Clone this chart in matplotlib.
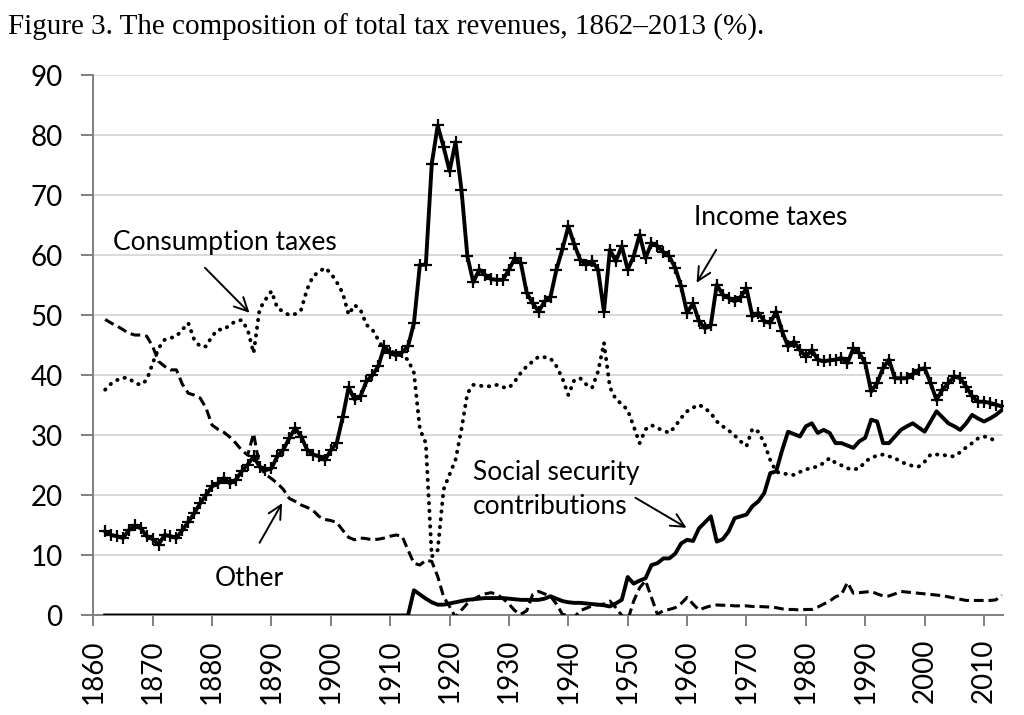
import numpy as np
import matplotlib.pyplot as plt

# years covered by the series
years = np.arange(1862, 2014)

# shares of total tax revenue (%), one value per year 1862-2013
income_taxes = [
    14.0, 13.4, 13.2, 12.9, 14.2, 15.0, 14.5, 13.2,
    12.7, 11.8, 13.4, 13.2, 12.9, 14.2, 15.6, 17.0, 18.7, 20.1,
    21.5, 22.0, 22.9, 22.0, 22.6, 24.0, 25.1, 26.5, 24.8, 24.2,
    24.5, 26.5, 27.6, 29.5, 31.2, 29.8, 27.6, 26.8, 26.5, 25.9,
    27.5, 28.7, 33.0, 38.0, 36.0, 36.5, 39.0, 40.0, 41.5, 44.8,
    43.7, 43.3, 43.8, 44.8, 48.7, 58.4, 58.4, 75.2, 81.6, 78.0,
    74.0, 78.8, 70.9, 59.8, 55.5, 57.6, 56.7, 56.0, 55.9, 55.9,
    57.6, 59.5, 58.7, 53.7, 52.0, 50.6, 52.3, 53.1, 57.6, 61.0,
    64.8, 61.8, 59.2, 58.4, 59.0, 57.6, 50.6, 60.9, 59.0, 61.5,
    57.6, 59.8, 63.4, 59.5, 62.0, 61.5, 60.5, 59.8, 57.9, 54.8,
    50.4, 52.0, 49.0, 47.8, 48.4, 55.1, 53.4, 52.9, 52.3, 53.0,
    54.5, 49.8, 50.4, 49.0, 48.7, 50.6, 47.3, 44.8, 45.6, 44.2,
    43.1, 44.2, 42.6, 42.3, 42.5, 42.6, 42.9, 42.0, 44.5, 43.7,
    42.0, 37.3, 38.7, 41.2, 42.6, 39.5, 39.5, 39.5, 40.2, 40.9,
    41.2, 38.7, 35.9, 37.6, 38.7, 39.8, 39.5, 38.1, 36.5, 35.6,
    35.6, 35.4, 35.1, 34.8,
]

consumption_taxes = [
    37.6, 38.6, 39.2, 39.6, 39.5, 38.7, 38.4, 39.2,
    42.0, 44.5, 45.9, 46.2, 46.5, 47.6, 48.7, 45.9, 44.8, 44.8,
    46.5, 47.6, 47.6, 48.4, 49.0, 49.2, 47.6, 43.7, 51.0, 52.6,
    54.0, 51.2, 50.6, 50.0, 50.2, 50.9, 54.3, 56.5, 57.2, 57.9,
    57.0, 55.5, 53.7, 50.1, 51.7, 50.9, 48.4, 47.6, 45.9, 44.2,
    44.0, 43.7, 43.2, 42.6, 40.4, 31.0, 28.7, 9.8, 10.9, 21.0,
    23.5, 25.9, 31.0, 37.0, 38.4, 38.3, 38.1, 38.2, 38.4, 38.0,
    37.9, 39.0, 40.4, 41.5, 42.3, 43.1, 43.0, 42.8, 41.5, 39.5,
    36.7, 39.2, 39.5, 38.5, 37.9, 40.6, 45.4, 38.0, 36.0, 35.2,
    34.2, 31.5, 28.7, 31.0, 31.7, 31.2, 30.8, 30.4, 31.5, 32.9,
    34.0, 34.6, 35.1, 34.5, 33.7, 32.3, 31.5, 30.8, 30.0, 29.0,
    28.2, 31.1, 30.6, 28.7, 25.9, 23.9, 23.7, 23.5, 23.4, 23.9,
    24.3, 24.6, 24.8, 25.4, 26.2, 25.4, 25.0, 24.5, 24.3, 24.5,
    25.6, 26.3, 26.6, 26.8, 26.5, 26.2, 25.6, 25.2, 24.9, 24.8,
    25.6, 26.8, 26.8, 26.8, 26.5, 26.5, 27.2, 28.0, 28.7, 29.5,
    29.8, 29.6, 28.9, np.nan,
]

social_security = [
    0.0, 0.0, 0.0, 0.0, 0.0, 0.0, 0.0, 0.0,
    0.0, 0.0, 0.0, 0.0, 0.0, 0.0, 0.0, 0.0, 0.0, 0.0,
    0.0, 0.0, 0.0, 0.0, 0.0, 0.0, 0.0, 0.0, 0.0, 0.0,
    0.0, 0.0, 0.0, 0.0, 0.0, 0.0, 0.0, 0.0, 0.0, 0.0,
    0.0, 0.0, 0.0, 0.0, 0.0, 0.0, 0.0, 0.0, 0.0, 0.0,
    0.0, 0.0, 0.0, 0.0, 4.2, 3.5, 2.8, 2.2, 1.8, 1.8,
    2.0, 2.2, 2.4, 2.6, 2.7, 2.8, 2.9, 2.9, 2.9, 2.9,
    2.8, 2.7, 2.6, 2.6, 2.6, 2.6, 2.8, 3.2, 2.8, 2.4,
    2.2, 2.1, 2.1, 2.0, 1.9, 1.8, 1.7, 1.5, 2.0, 2.6,
    6.4, 5.3, 5.8, 6.2, 8.4, 8.7, 9.5, 9.5, 10.3, 12.0,
    12.6, 12.4, 14.5, 15.5, 16.5, 12.3, 12.7, 14.0, 16.2, 16.5,
    16.8, 18.2, 19.0, 20.4, 23.7, 24.0, 27.5, 30.6, 30.2, 29.8,
    31.5, 32.0, 30.4, 30.9, 30.4, 28.7, 28.7, 28.3, 27.9, 29.0,
    29.6, 32.6, 32.3, 28.7, 28.7, 29.8, 30.9, 31.5, 32.0, 31.3,
    30.6, 32.3, 34.0, 33.0, 32.0, 31.5, 30.9, 32.0, 33.4, 32.8,
    32.3, 32.8, 33.4, 34.2,
]

other = [
    49.3, 48.7, 48.2, 47.6, 47.0, 46.7, 46.7, 46.5,
    44.8, 42.3, 41.5, 40.9, 40.9, 38.5, 37.0, 36.7, 36.2, 34.5,
    31.7, 31.0, 30.5, 29.7, 28.7, 27.5, 26.7, 30.3, 24.8, 23.5,
    22.8, 22.0, 21.0, 19.5, 19.0, 18.4, 18.0, 17.5, 16.5, 16.0,
    15.8, 15.5, 14.2, 13.0, 12.6, 12.9, 12.8, 12.6, 12.7, 12.9,
    13.2, 13.4, 13.2, 10.9, 8.7, 8.4, 9.2, 9.0, 6.5, 3.1,
    1.5, -0.3, 0.9, 2.0, 2.7, 3.2, 3.6, 3.8, 3.5, 2.8,
    1.9, 0.8, 0.2, 0.8, 3.5, 4.0, 3.6, 3.2, 1.9, 0.2,
    0.0, -0.3, 0.8, 1.2, 1.6, 1.8, 1.9, 2.4, 1.3, 0.0,
    -0.8, 2.4, 4.6, 5.8, 3.0, 0.2, 0.8, 1.0, 1.3, 2.0,
    3.0, 1.9, 0.9, 1.3, 1.6, 1.75, 1.7, 1.7, 1.6, 1.6,
    1.6, 1.5, 1.5, 1.45, 1.4, 1.3, 1.1, 1.0, 1.0, 0.9,
    1.0, 1.0, 1.4, 1.9, 2.4, 3.1, 3.5, 5.5, 3.7, 3.8,
    3.9, 4.0, 3.6, 3.25, 3.25, 3.6, 4.0, 3.9, 3.8, 3.7,
    3.6, 3.5, 3.4, 3.3, 3.1, 2.9, 2.7, 2.5, 2.5, 2.5,
    2.5, 2.5, 2.6, 3.4,
]

yticks = [0, 10, 20, 30, 40, 50, 60, 70, 80, 90]
xticks = list(range(1860, 2020, 10))

label_font = 'Lato'

fig = plt.figure(figsize=(10.24, 7.15), dpi=100)
ax = fig.add_axes([0.0911, 0.1392, 0.8884, 0.7559])

ax.plot(years, other, color='black', lw=2.2, ls=(0, (3.2, 1.6)), zorder=3)
ax.plot(years, consumption_taxes, color='black', lw=2.8, ls=(0, (0.1, 1.9)),
        dash_capstyle='round', zorder=3)
ax.plot(years, social_security, color='black', lw=2.8, zorder=4)
ax.plot(years, income_taxes, color='black', lw=2.8, marker='+', ms=9, mew=1.6,
        zorder=5)

ax.set_xlim(1860, 2013.2)
ax.set_ylim(0, 90)
ax.set_yticks(yticks)
ax.set_xticks(xticks)
ax.set_xticklabels([str(x) for x in xticks], rotation=90, fontsize=20,
                   family=label_font)
ax.set_yticklabels([str(y) for y in yticks], fontsize=20, family=label_font)

ax.grid(axis='y', color='#d9d9d9', lw=1.4)
ax.set_axisbelow(True)
for side in ['top', 'right']:
    ax.spines[side].set_visible(False)
for side in ['left', 'bottom']:
    ax.spines[side].set_color('#808080')
    ax.spines[side].set_linewidth(1.4)
ax.tick_params(axis='y', length=9, width=1.4, color='#808080', pad=13)
ax.tick_params(axis='x', length=8, width=1.4, color='#808080', pad=9)

# series labels
ann = dict(fontsize=19, family=label_font, color='black')
ax.text(1863.3, 62.1, 'Consumption taxes', ha='left', va='center', **ann)
ax.text(1961.1, 66.2, 'Income taxes', ha='left', va='center', **ann)
ax.text(1924.0, 20.9, 'Social security\ncontributions', ha='left', va='center',
        linespacing=1.45, **ann)
ax.text(1886.3, 6.2, 'Other', ha='center', va='center', **ann)

# arrows from the labels to the lines
arrow = dict(arrowstyle='->', color='black', lw=1.4, mutation_scale=24,
             shrinkA=0, shrinkB=0)
ax.annotate('', xy=(1886.3, 50.4), xytext=(1878.8, 57.9), arrowprops=arrow)
ax.annotate('', xy=(1961.6, 55.4), xytext=(1964.9, 60.9), arrowprops=arrow)
ax.annotate('', xy=(1959.9, 14.6), xytext=(1951.3, 19.6), arrowprops=arrow)
ax.annotate('', xy=(1891.8, 18.7), xytext=(1888.0, 12.1), arrowprops=arrow)

fig.text(0.008, 1 - 35 / 715, 'Figure 3. The composition of total tax revenues, 1862\u20132013 (%).',
         family='Liberation Serif', fontsize=21, va='baseline', ha='left')

fig.savefig('out.png', dpi=100)
